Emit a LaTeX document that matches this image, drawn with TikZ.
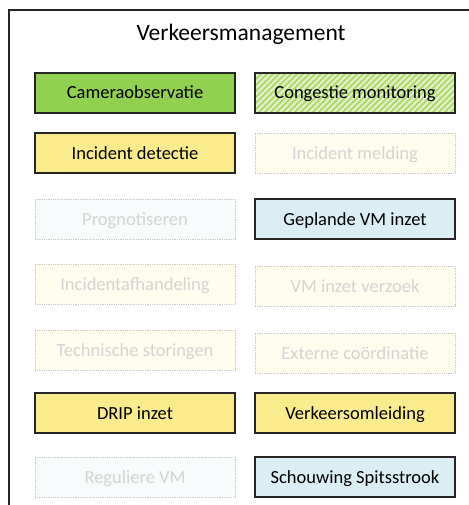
\documentclass[tikz,border=0pt]{standalone}
\usepackage{fontspec}
\setmainfont{Carlito}
\definecolor{vmgreen}{HTML}{92D050}
\definecolor{vmhatch}{HTML}{B0DA6C}
\definecolor{vmyellow}{HTML}{FAEB8C}
\definecolor{vmblue}{HTML}{DAEEF3}
\definecolor{fadeyellow}{HTML}{FFFDEE}
\definecolor{fadeblue}{HTML}{F8FBFC}
\definecolor{fadeline}{HTML}{C8C8C8}
\definecolor{fadetext}{HTML}{D4D4D4}
\begin{document}
\begin{tikzpicture}[x=1pt, y=-1pt,
  vmbox/.style={draw=black!85, line width=1.3pt, minimum width=200pt, minimum height=40pt,
    inner sep=0pt, font=\fontsize{18.5}{18.5}\selectfont, text height=12pt, text depth=0pt},
  fadebox/.style={vmbox, draw=fadeline, line width=0.8pt, densely dotted, text=fadetext},
  hatched/.style={fill=vmhatch, path picture={
    \foreach \s in {-60,-54,...,220}
      \draw[white, opacity=0.65, line width=2pt]
        ([xshift=\s pt]path picture bounding box.south west) -- ++(45:100pt);}}]
  \useasboundingbox (0,0) rectangle (468,505);
  % frame
  \draw[black!85, line width=2pt] (9,506) -- (9,10) -- (469,10);
  \node[anchor=base, font=\fontsize{23.5}{23.5}\selectfont] (title) at (241,41) {Verkeersmanagement};
  % row 1
  \node[vmbox, fill=vmgreen] (camera) at (135,93) {Cameraobservatie};
  \node[vmbox, hatched] (congestie) at (355,93) {Congestie monitoring};
  % row 2
  \node[vmbox, fill=vmyellow] (detectie) at (135,153) {Incident detectie};
  \node[fadebox, fill=fadeyellow] (melding) at (355,153) {Incident melding};
  % row 3
  \node[fadebox, fill=fadeblue] (prognose) at (135,219) {Prognotiseren};
  \node[vmbox, fill=vmblue] (gepland) at (355,219) {Geplande VM inzet};
  % row 4
  \node[fadebox, fill=fadeyellow] (afhandeling) at (135,284) {Incidentafhandeling};
  \node[fadebox, fill=fadeyellow] (verzoek) at (355,286) {VM inzet verzoek};
  % row 5
  \node[fadebox, fill=fadeyellow] (storingen) at (135,350) {Technische storingen};
  \node[fadebox, fill=fadeyellow] (extern) at (355,353) {Externe coördinatie};
  % row 6
  \node[vmbox, fill=vmyellow] (drip) at (135,413) {DRIP inzet};
  \node[vmbox, fill=vmyellow] (omleiding) at (355,413) {Verkeersomleiding};
  % row 7
  \node[fadebox, fill=fadeblue] (regulier) at (135,477) {Reguliere VM};
  \node[vmbox, fill=vmblue] (schouwing) at (355,477) {Schouwing Spitsstrook};
\end{tikzpicture}
\end{document}
